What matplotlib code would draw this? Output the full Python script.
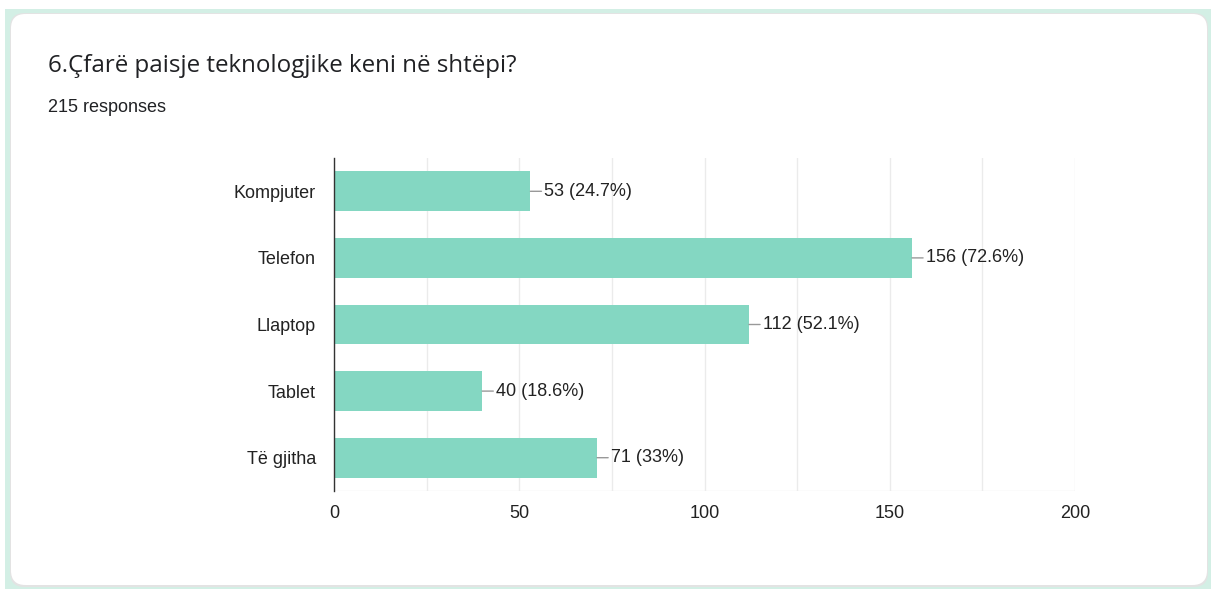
import matplotlib
matplotlib.use("Agg")
import matplotlib.pyplot as plt
from matplotlib.patches import FancyBboxPatch, Rectangle

# Survey data
categories = ["Kompjuter", "Telefon", "Llaptop", "Tablet", "Të gjitha"]
counts = [53, 156, 112, 40, 71]
percents = ["24.7%", "72.6%", "52.1%", "18.6%", "33%"]
x_ticks = [0, 50, 100, 150, 200]
title = "6.Çfarë paisje teknologjike keni në shtëpi?"
subtitle = "215 responses"

W, H = 1211, 589
fig = plt.figure(figsize=(W / 100, H / 100), dpi=100)
fig.patch.set_facecolor("white")

SANS = ["Liberation Sans", "DejaVu Sans"]

def fx(px):
    return px / W

def fy(py):
    return 1 - py / H

# Mint backdrop and white card with a soft edge
fig.patches.append(Rectangle((fx(5), 0), 1 - fx(5), fy(9), transform=fig.transFigure,
                             facecolor="#d3efe5", edgecolor="none", zorder=0))
fig.patches.append(FancyBboxPatch((fx(10), fy(587)), fx(1208) - fx(10), fy(13) - fy(587),
                                  boxstyle="round,pad=0,rounding_size=0.012",
                                  transform=fig.transFigure, facecolor="#e3e3e3",
                                  edgecolor="none", zorder=1, mutation_aspect=W / H))
fig.patches.append(FancyBboxPatch((fx(11), fy(585)), fx(1207) - fx(11), fy(14) - fy(585),
                                  boxstyle="round,pad=0,rounding_size=0.012",
                                  transform=fig.transFigure, facecolor="white",
                                  edgecolor="none", zorder=2, mutation_aspect=W / H))

fig.text(fx(48), fy(66), title, fontsize=17.4, color="#202124",
         family=["Open Sans", "DejaVu Sans"], va="center", ha="left")
fig.text(fx(48), fy(108), subtitle, fontsize=13, color="#202124",
         family=SANS, va="center", ha="left")

ax = fig.add_axes([fx(334), fy(491), fx(1075) - fx(334), fy(158) - fy(491)])
ax.set_facecolor("none")
ax.set_zorder(3)

y = list(range(len(categories)))
ax.barh(y, counts, height=0.6, color="#84d7c2", zorder=3)
ax.set_ylim(len(categories) - 0.5, -0.5)
ax.set_xlim(0, 200)

ax.set_yticks(y)
ax.set_yticklabels(categories, family=SANS, fontsize=13, color="#222222")
ax.set_xticks(x_ticks)
ax.set_xticklabels([str(t) for t in x_ticks], family=SANS, fontsize=13, color="#222222")
ax.set_xticks(range(0, 201, 25), minor=True)
ax.tick_params(axis="both", which="both", length=0)
ax.tick_params(axis="y", pad=13)
ax.tick_params(axis="x", pad=10)

ax.grid(axis="x", which="both", color="#ebebeb", linewidth=1, zorder=0)
for side in ["top", "right", "bottom"]:
    ax.spines[side].set_visible(False)
ax.spines["left"].set_color("#333333")
ax.spines["left"].set_linewidth(1)
ax.spines["left"].set_zorder(4)
ax.axhline(len(categories) - 0.5, color="#ebebeb", linewidth=1, zorder=0)

for yi, c, p in zip(y, counts, percents):
    ax.annotate(f"{c} ({p})", xy=(c, yi), xytext=(10, 0), textcoords="offset points",
                ha="left", va="center", fontsize=13, color="#222222", family=SANS,
                arrowprops=dict(arrowstyle="-", color="#999999", lw=1,
                                shrinkA=0, shrinkB=0), zorder=5)

fig.savefig("out.png", dpi=100)
